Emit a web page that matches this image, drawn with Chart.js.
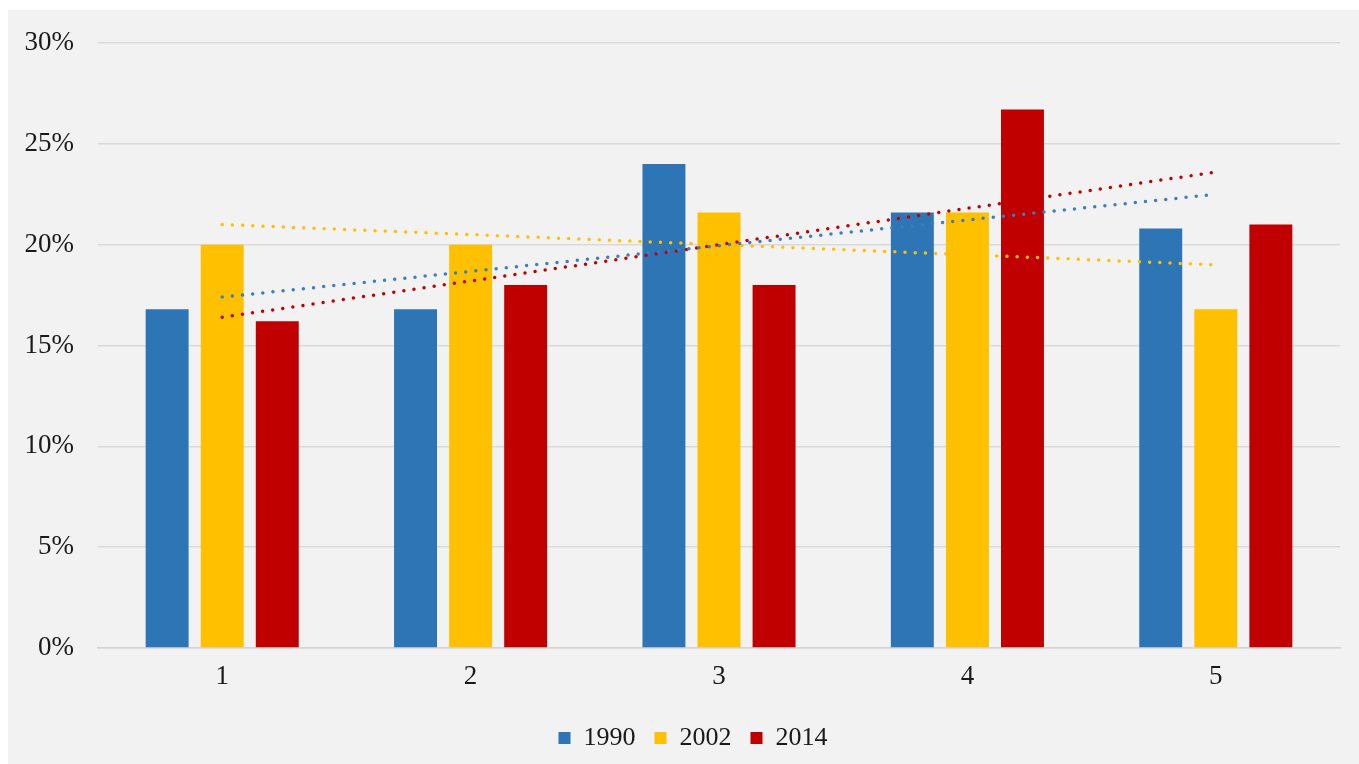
<!DOCTYPE html>
<html>
<head>
<meta charset="utf-8">
<script src="https://cdn.jsdelivr.net/npm/chart.js@4.4.1/dist/chart.umd.min.js"></script>
<style>
  html, body { margin: 0; padding: 0; background: #ffffff; }
  #wrap { position: absolute; left: 8px; top: 10px; width: 1351px; height: 754px; background: #f2f2f2; }
  canvas { display: block; }
</style>
</head>
<body>
<div id="wrap"><canvas id="c" width="1351" height="754"></canvas></div>
<script>
const categories = ['1', '2', '3', '4', '5'];
const seriesNames = ['1990', '2002', '2014'];
const values1990 = [16.8, 16.8, 24.0, 21.6, 20.8];
const values2002 = [20.0, 20.0, 21.6, 21.6, 16.8];
const values2014 = [16.2, 18.0, 18.0, 26.7, 21.0];
// trendline endpoints (at category 1 and category 5)
const trendStart = [17.4, 21.0, 16.4];
const trendEnd = [22.5, 19.0, 23.6];
const yTicks = [0, 5, 10, 15, 20, 25, 30];

const colors = ['#2e75b6', '#ffc000', '#c00000'];
const trendColors = ['#3a7dc0', '#ffc000', '#c00000'];
const allValues = [values1990, values2002, values2014];

const FONT = "'Liberation Serif', 'Times New Roman', serif";

const barSets = seriesNames.map((name, i) => ({
  type: 'bar',
  label: name,
  data: allValues[i],
  backgroundColor: colors[i],
  borderWidth: 0,
  categoryPercentage: 0.665,
  barPercentage: 0.78,
  order: 2
}));

const trendSets = seriesNames.map((name, i) => ({
  type: 'line',
  label: 'trend ' + name,
  data: categories.map((c, k) => k === 0 ? trendStart[i] : (k === categories.length - 1 ? trendEnd[i] : null)),
  spanGaps: true,
  borderColor: trendColors[i],
  borderWidth: 3.5,
  borderDash: [0, 10.2],
  borderCapStyle: 'round',
  pointRadius: 0,
  fill: false,
  tension: 0,
  order: 1
}));

const legendShift = {
  id: 'legendShift',
  afterLayout(chart) {
    if (chart.legend) { chart.legend.left += 19; chart.legend.right += 19; }
  }
};

new Chart(document.getElementById('c'), {
  data: { labels: categories, datasets: [...barSets, ...trendSets] },
  plugins: [legendShift],
  options: {
    responsive: false,
    animation: false,
    layout: { padding: { left: 0, right: 19, top: 33, bottom: 3 } },
    plugins: {
      tooltip: { enabled: false },
      legend: {
        position: 'bottom',
        labels: {
          filter: (item) => item.datasetIndex < 3,
          font: { family: FONT, size: 26 },
          color: '#1a1a1a',
          boxWidth: 12,
          boxHeight: 12,
          padding: 19
        }
      }
    },
    scales: {
      x: {
        grid: { display: false, drawTicks: false },
        border: { display: true, color: '#d4d4d4', width: 1.5 },
        ticks: { font: { family: FONT, size: 27 }, color: '#1a1a1a', padding: 13 },
        afterFit: (s) => { s.height = 58; s.paddingLeft = 0; s.paddingRight = 0; }
      },
      y: {
        min: 0, max: 30,
        afterBuildTicks: (s) => { s.ticks = yTicks.map(v => ({ value: v })); },
        grid: { color: '#d9d9d9', lineWidth: 1.5, drawTicks: false },
        border: { display: false },
        ticks: { font: { family: FONT, size: 27 }, color: '#1a1a1a', padding: 24, callback: (v) => v + '%' },
        afterFit: (s) => { s.width = 90; s.paddingTop = 0; s.paddingBottom = 0; }
      }
    }
  }
});
</script>
</body>
</html>
